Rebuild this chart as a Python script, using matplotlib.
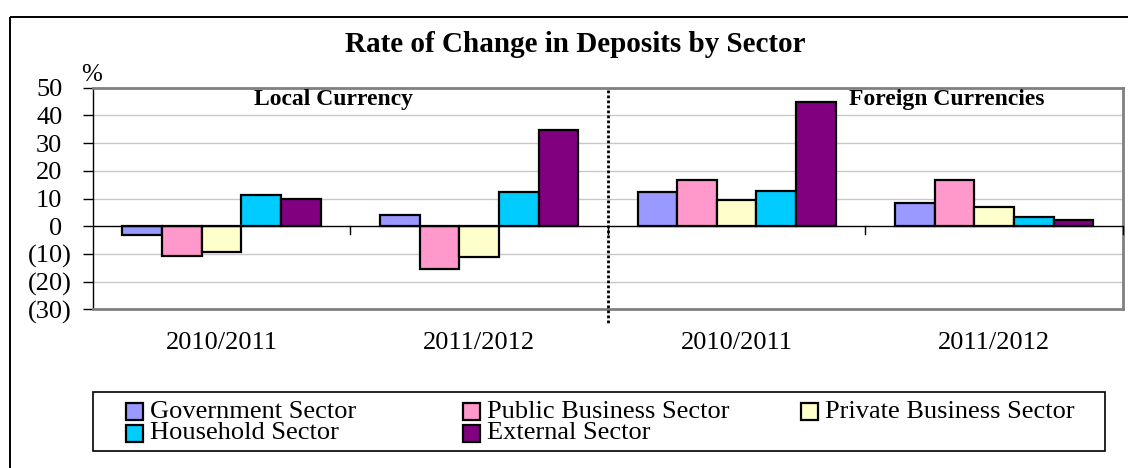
import matplotlib
matplotlib.use("Agg")
import matplotlib.pyplot as plt
from matplotlib.patches import Rectangle
from matplotlib.transforms import ScaledTranslation, blended_transform_factory
import numpy as np

# ---- data -------------------------------------------------------------
periods = ["2010/2011", "2011/2012", "2010/2011", "2011/2012"]
sectors = ["Government Sector", "Public Business Sector", "Private Business Sector",
           "Household Sector", "External Sector"]
government = [-3.0, 3.9, 12.4, 8.2]
public_business = [-10.7, -15.3, 16.6, 16.7]
private_business = [-9.3, -11.1, 9.6, 7.1]
household = [11.3, 12.2, 12.6, 3.4]
external = [9.7, 34.8, 44.8, 2.4]
panel_titles = ["Local Currency", "Foreign Currencies"]
y_ticks = [-30, -20, -10, 0, 10, 20, 30, 40, 50]

series = [government, public_business, private_business, household, external]
colors = ["#9999FF", "#FF99CC", "#FFFFCC", "#00CCFF", "#800080"]

# ---- figure -----------------------------------------------------------
W, H = 1128, 468
plt.rcParams["font.family"] = ["Liberation Serif", "DejaVu Serif"]
fig = plt.figure(figsize=(W / 100, H / 100), dpi=100)
fig.patch.set_facecolor("white")

# pixel-space overlay for the frame, title and legend
ov = fig.add_axes([0, 0, 1, 1], zorder=0)
ov.set_xlim(0, W)
ov.set_ylim(H, 0)
ov.axis("off")

ov.add_patch(Rectangle((9.5, 16.5), W + 20, H + 20, fill=False,
                       edgecolor="#000000", linewidth=1.4))
ov.text(575, 44, "Rate of Change in Deposits by Sector", ha="center", va="center",
        fontsize=21, fontweight="bold")
ov.text(92, 75, "%", ha="center", va="center", fontsize=18)

# main plotting area
px_left, px_right, px_top, px_bottom = 92.7, 1123, 87.7, 309.3
ax = fig.add_axes([px_left / W, (H - px_bottom) / H,
                   (px_right - px_left) / W, (px_bottom - px_top) / H], zorder=1)
ax.set_facecolor("white")

x = np.arange(len(periods))
n = len(series)
bw = 1 / 6.5
for i, (vals, col) in enumerate(zip(series, colors)):
    ax.bar(x + (i - (n - 1) / 2) * bw, vals, width=bw, color=col,
           edgecolor="black", linewidth=1.6, zorder=3)

ax.set_xlim(-0.5, len(periods) - 0.5)
ax.set_ylim(y_ticks[0], y_ticks[-1])

# grid and zero line
for v in y_ticks[1:-1]:
    if v != 0:
        ax.axhline(v, color="#C8C8C8", linewidth=1.0, zorder=1)
ax.axhline(0, color="black", linewidth=1.0, zorder=4)

# category separators hanging from the zero line
for b in np.arange(0.5, len(periods), 1.0):
    ax.plot([b, b], [0, -2.9], color="black", linewidth=1.0, zorder=4, clip_on=False)

# spines
for s in ["top", "right", "bottom"]:
    ax.spines[s].set_color("#808080")
    ax.spines[s].set_linewidth(2.0)
ax.spines["left"].set_color("black")
ax.spines["left"].set_linewidth(1.0)


def fmt(v):
    return f"({abs(v)})" if v < 0 else f"{v}"


ax.set_yticks(y_ticks)
ax.set_yticklabels([fmt(v) for v in y_ticks])
ax.tick_params(axis="y", direction="out", length=7, width=1.0, pad=8,
               labelsize=19)
# non-negative labels leave room for the closing parenthesis
shift = ScaledTranslation(-0.095, 0, fig.dpi_scale_trans)
for lab, v in zip(ax.get_yticklabels(), y_ticks):
    if v >= 0:
        lab.set_transform(lab.get_transform() + shift)

ax.set_xticks(x)
ax.set_xticklabels(periods)
ax.tick_params(axis="x", length=0, pad=16, labelsize=19)

# dotted divider between the two currency panels
bt = blended_transform_factory(ax.transData, ax.transAxes)
ax.plot([1.5, 1.5], [0.99, -0.071], transform=bt, color="black",
        linestyle=(0, (1, 0.8)), linewidth=2.0, clip_on=False, zorder=5)

# panel headings
span_x = px_right - px_left
span_y = px_bottom - px_top
ax.text((334 - px_left) / span_x, (px_bottom - 99) / span_y, panel_titles[0],
        transform=ax.transAxes, ha="center", va="center", fontsize=17,
        fontweight="bold", zorder=6)
ax.text((947 - px_left) / span_x, (px_bottom - 100) / span_y, panel_titles[1],
        transform=ax.transAxes, ha="center", va="center", fontsize=17,
        fontweight="bold", zorder=6)

# legend box, entries laid out row by row
ov.add_patch(Rectangle((93, 392), 1012, 59, fill=False, edgecolor="#000000",
                       linewidth=1.2))
col_x = [126, 463, 801]
row_y = [411.7, 433.3]
for k, name in enumerate(sectors):
    r, c = divmod(k, 3)
    mx, my = col_x[c], row_y[r]
    ov.add_patch(Rectangle((mx, my - 8.5), 17, 17, facecolor=colors[k],
                           edgecolor="black", linewidth=1.6))
    ov.text(mx + 24, my, name, ha="left", va="center", fontsize=19)

fig.savefig("out.png", dpi=100, facecolor="white")
